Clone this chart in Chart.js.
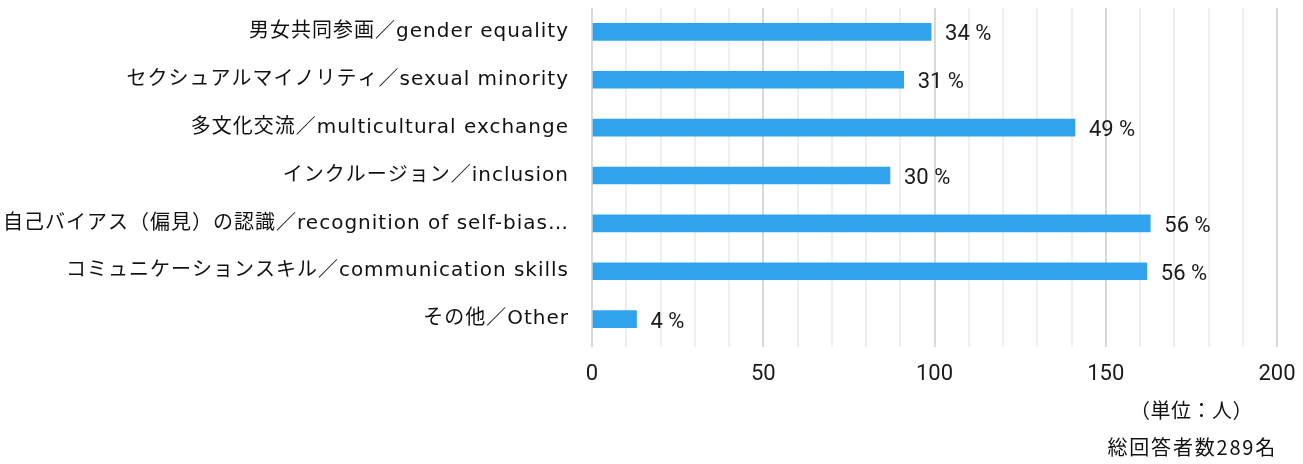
<!DOCTYPE html>
<html>
<head>
<meta charset="utf-8">
<script src="https://cdn.jsdelivr.net/npm/chart.js@4.4.1/dist/chart.umd.min.js"></script>
<style>
  html, body { margin: 0; padding: 0; background: #fff; }
  #wrap { position: relative; width: 1303px; height: 464px; }
  canvas { position: absolute; left: 0; top: 0; }
  .note { position: absolute; font-family: 'Noto Sans CJK JP', sans-serif; font-size: 20px; color: #111; white-space: nowrap; line-height: 1; }
</style>
</head>
<body>
<div id="wrap">
  <canvas id="c" width="1303" height="464"></canvas>
  <div class="note" id="unit" style="left:1130px; top:400px; letter-spacing:0.5px;">（単位：人）</div>
  <div class="note" id="total" style="right:26px; top:437px; letter-spacing:1.8px;">総回答者数289名</div>
</div>
<script>
const categories = [
  '男女共同参画／gender equality',
  'セクシュアルマイノリティ／sexual minority',
  '多文化交流／multicultural exchange',
  'インクルージョン／inclusion',
  '自己バイアス（偏見）の認識／recognition of self-bias…',
  'コミュニケーションスキル／communication skills',
  'その他／Other'
];
const counts = [99, 91, 141, 87, 163, 162, 13];
const percentLabels = [34, 31, 49, 30, 56, 56, 4];
const xTickLabels = [0, 50, 100, 150, 200];

const numFont = "'Roboto', sans-serif";

const valueLabels = {
  id: 'valueLabels',
  afterLayout(chart) {
    const ys = chart.scales.y;
    if (ys && !ys._spaced) {
      const orig = ys.drawLabels.bind(ys);
      ys.drawLabels = function (area) {
        const ctx = chart.ctx;
        ctx.save();
        ctx.letterSpacing = '1px';
        orig(area);
        ctx.restore();
      };
      ys._spaced = true;
    }
  },
  afterDatasetsDraw(chart) {
    const ctx = chart.ctx;
    const meta = chart.getDatasetMeta(0);
    ctx.save();
    ctx.fillStyle = '#1a1a1a';
    ctx.font = "22px " + numFont;
    ctx.textAlign = 'left';
    ctx.textBaseline = 'middle';
    meta.data.forEach((bar, i) => {
      ctx.fillText(percentLabels[i] + ' %', bar.x + 14, bar.y + 3);
    });
    ctx.restore();
  }
};

new Chart(document.getElementById('c'), {
  type: 'bar',
  data: {
    labels: categories,
    datasets: [{
      data: counts,
      backgroundColor: '#31a3ec',
      borderWidth: 0,
      barThickness: 17
    }]
  },
  options: {
    indexAxis: 'y',
    responsive: false,
    animation: false,
    layout: { padding: { top: 8, right: 26, bottom: 71, left: 0 } },
    plugins: { legend: { display: false }, tooltip: { enabled: false } },
    scales: {
      x: {
        min: 0, max: 200,
        ticks: {
          stepSize: 10,
          autoSkip: false,
          maxRotation: 0,
          padding: 14,
          color: '#1a1a1a',
          font: { family: numFont, size: 22 },
          callback: (v) => xTickLabels.includes(v) ? String(v) : ''
        },
        grid: {
          color: (c) => (c.tick && c.tick.value % 50 === 0) ? '#d9d9d9' : '#efefef',
          lineWidth: 2,
          tickLength: 4,
          drawTicks: true
        },
        border: { display: false },
        afterFit: (s) => { s.height = 50; s.paddingLeft = 0; s.paddingRight = 0; }
      },
      y: {
        grid: { display: false, drawTicks: false },
        border: { display: false },
        ticks: {
          padding: 23,
          color: '#111',
          font: { family: "'DejaVu Sans', 'Noto Sans CJK JP', sans-serif", size: 20 }
        },
        afterFit: (s) => { s.width = 592; s.paddingTop = 0; s.paddingBottom = 0; }
      }
    }
  },
  plugins: [valueLabels]
});
</script>
</body>
</html>
